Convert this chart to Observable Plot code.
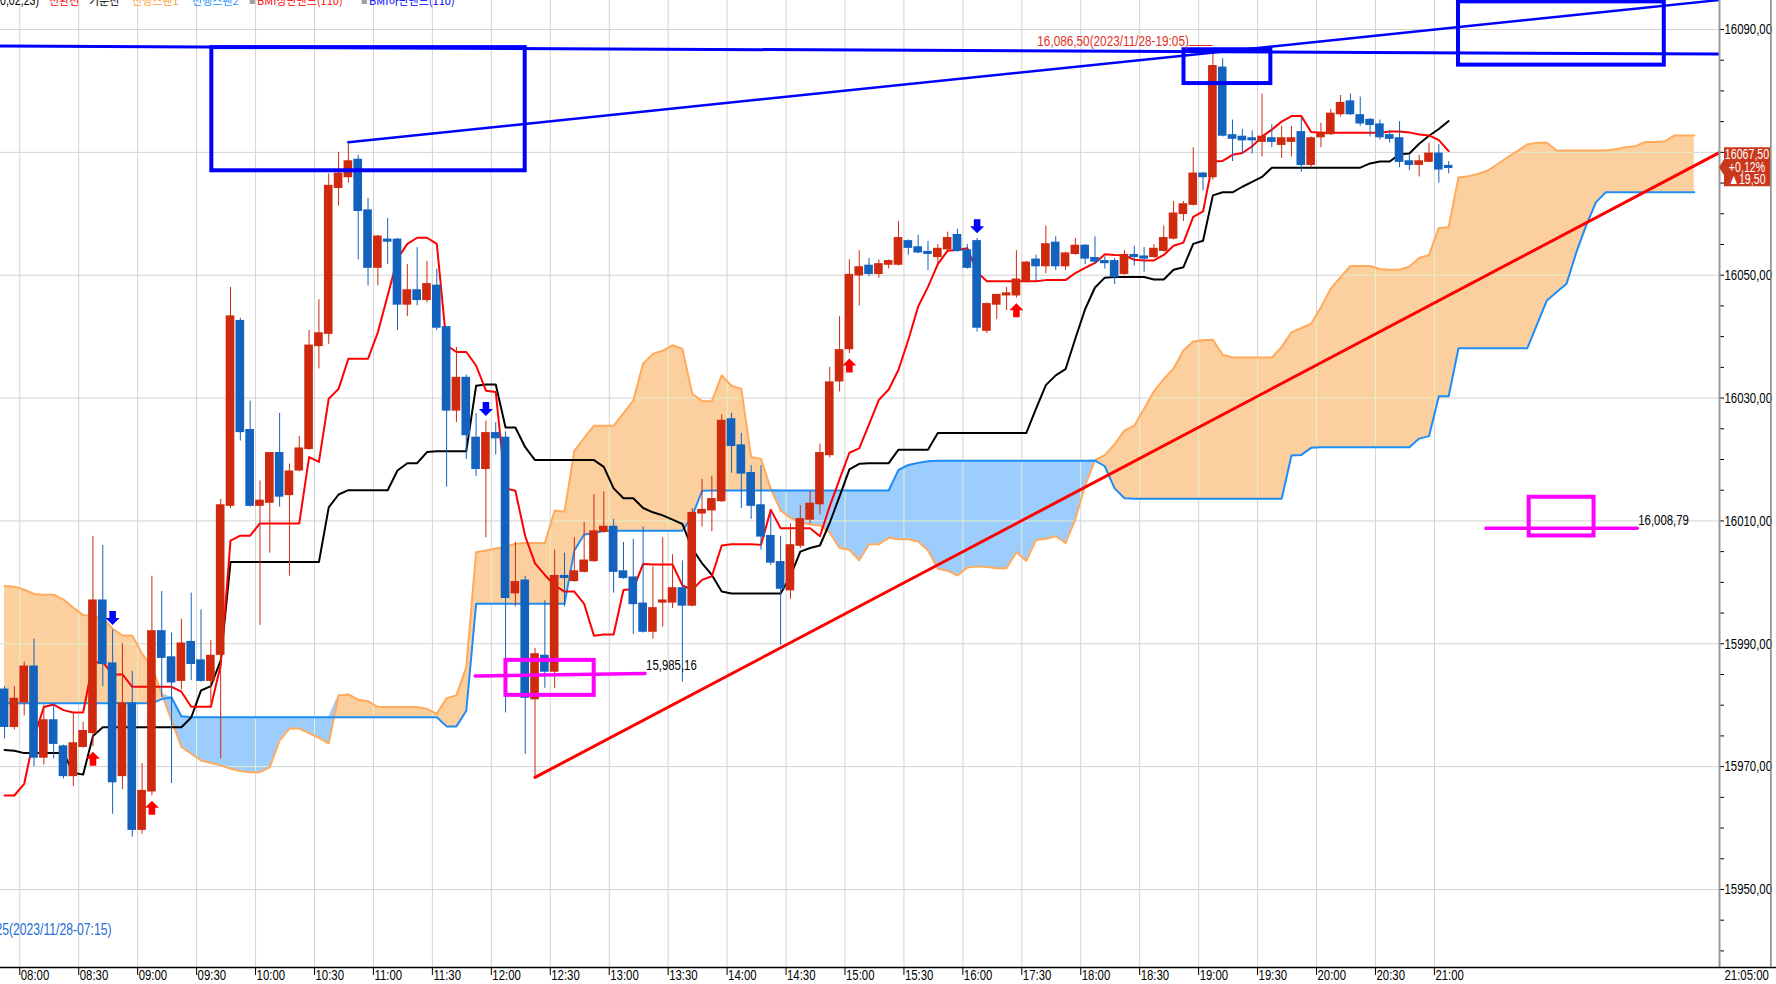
<!DOCTYPE html>
<html><head><meta charset="utf-8">
<script src="https://cdn.jsdelivr.net/npm/d3@7"></script>
<script src="https://cdn.jsdelivr.net/npm/@observablehq/plot@0.6"></script>
<style>
html,body{margin:0;padding:0;background:#fff;overflow:hidden;}
#wrap{position:relative;width:1776px;height:984px;overflow:hidden;}
#legend{position:absolute;left:0;top:-8px;height:20px;width:700px;line-height:16px;white-space:nowrap;}
#legend span{position:absolute;top:0;}
.lat{font-family:'Liberation Sans',sans-serif;font-size:14px;transform:scaleX(0.76);transform-origin:0 0;}
.kr{font-family:'Noto Sans CJK KR',sans-serif;font-size:11px;}
</style></head><body>
<div id="wrap"><div id="chart"></div><div id="legend"></div></div>
<script>
// ---------- data (5-minute bars, index 0 = 08:00) ----------
const FIRST_BAR = -2;
const openV = [15982.5,15976.5,15980.5,15986.25,15971.5,15977.5,15973.25,15968.5,15973.25,15975.5,
15997,15986.75,15968.5,15980.25,15959.75,15966,15992,15987.75,15984,15990.25,
15987.25,15984,15988.25,16012.5,16042.5,16024.75,16012.5,16013,16021,16014.25,
16018.25,16021.75,16038.5,16040.5,16064.25,16066,16068.75,16060.5,16051.25,16055.75,
16055.75,16045.25,16047.5,16046,16048.25,16041.5,16028,16033.25,16023.5,16018.5,
16024.25,16023.5,15998.25,16000.25,15981,15988,15985.5,16001,16000.25,16001.75,
16003.5,16008.25,16009,16001.75,16000.75,15996.5,15992,15996.75,15996.75,15999,
15996.25,16011.25,16011.75,16013.25,16026.5,16022.25,16017.75,16012.5,16007.5,16003.25,
15998.75,16006,16010.25,16012.75,16020.75,16032.75,16038,16050,16051.5,16050.25,
16051.75,16051.75,16055.5,16054.5,16053.75,16053,16054.25,16056.5,16054,16055.5,
16041,16045.25,16046.75,16046.75,16049,16052.5,16051.5,16055.25,16051.5,16053.5,
16054.75,16052.75,16052.25,16052.25,16050.25,16053.25,16053,16053,16054,16056,
16060,16061.5,16066.5,16066,16083.75,16072.75,16072.5,16072.25,16071.75,16072.25,
16071.25,16071.75,16073.25,16068,16072.5,16073,16076.25,16078.25,16076,16075.25,
16074.5,16072.75,16072.25,16068.5,16068,16068.5,16069.75,16067.75];
const highV = [15983,15983,15987,15990.75,15980,15980.25,15973.5,15978.75,15977.25,16007.5,
16006,15992.25,15990,15985.5,15970.5,16001,15998.5,15991.75,15994,15998.25,
15995.5,15990.5,16013.5,16048,16043,16029.5,16016.5,16021,16027.5,16019.25,
16023.75,16041,16046,16066.5,16070,16071.5,16069.5,16062.5,16056.5,16059.25,
16056,16051.75,16054.5,16052.25,16051,16041.5,16038.25,16033.75,16027.5,16026.25,
16026,16024.5,16006.5,16001,15989.25,15997,16005.25,16004.75,16007.25,16009.75,
16014.25,16014.75,16010.25,16006.5,16007,16009,16002.5,16007.25,16004.5,16003.5,
16012,16016.75,16017.25,16027.25,16027.5,16024.25,16019,16019,16011.25,16007.5,
16009.5,16012.5,16014.75,16022.5,16035,16043.25,16052.5,16054,16052.75,16052.5,
16052.5,16058.75,16055.75,16056.5,16055.5,16055,16057,16057.5,16055,16056,
16045.5,16046.75,16048,16054,16052.25,16053.25,16058,16056.25,16053.75,16056,
16055,16056.25,16053,16052.75,16054,16054.75,16054.5,16055,16058,16062,
16062,16070.75,16066.75,16086.5,16085.25,16075.25,16073.75,16073.5,16079.5,16074.5,
16074.25,16074.25,16075.5,16072.5,16074.75,16077,16079.25,16079.5,16079,16075.5,
16075.25,16073.5,16075,16069.5,16069.5,16071.5,16071.25,16068.5];
const lowV = [15974.5,15976,15978.25,15970,15970.25,15971.25,15968,15966.75,15973,15973.25,
15983,15962.25,15966.25,15958.5,15959,15965.25,15981.25,15967.25,15982.5,15984,
15983.75,15980.25,15971.25,16012,16023,16012.25,15993,16004.75,16012.25,16001,
16018,16021.5,16034.75,16038.75,16061.25,16065,16052.5,16048.25,16048.25,16051.75,
16041,16043.25,16045,16045.5,16041,16015.5,16026,16020,16017.25,16007.25,
16020.75,15978.75,15996,15972,15968.25,15982.75,15982.75,15996,16000,16001.5,
16003.25,16008,15998.25,16000.5,15991.5,15991.75,15990.75,15992.75,15995.75,15983.75,
15996,16009,16008.25,16013,16017.75,16012,16010.25,16005.25,16002.75,15989.75,
15997.25,16005.5,16009.5,16011,16020.25,16031,16037.25,16045,16049.75,16049.5,
16051,16051.5,16053.25,16053.5,16050.75,16051.75,16054,16053.75,16051,16040.75,
16040.5,16042.75,16044.25,16046.25,16048.75,16049,16050.25,16050.75,16050.75,16053.25,
16051.75,16051.75,16051,16048.5,16050,16051.5,16050.5,16052.75,16053.75,16055.75,
16058.75,16061.25,16063.75,16065.5,16072.5,16068.5,16069.75,16069.75,16069.25,16070.75,
16069,16069.25,16066.75,16067.5,16070.75,16072.75,16075.75,16076,16074.25,16072.5,
16072,16071.5,16067.5,16067,16066,16068.5,16065,16066.5];
const closeV = [15976.5,15981,15986.25,15971.5,15977.5,15973.75,15968.5,15973.75,15975.75,15997,
15986.75,15967.5,15980.25,15959.75,15966,15992,15987.75,15983.75,15990,15986.75,
15984,15988,16012.5,16043.25,16024.5,16012.5,16013.25,16021,16014,16018,
16021.75,16038.5,16040.5,16064.5,16066.5,16068.5,16060.5,16051.25,16056.25,16055.5,
16045.25,16047.5,16046,16048.5,16041.5,16028,16033.25,16024,16018.5,16024.25,
16023.5,15997.5,16000,15981.25,15988.25,15985.5,16001,16000.75,16001.75,16003.5,
16008.25,16009,16001.75,16000.75,15996.5,15992,15995.75,15997,15999,15996.25,
16011.25,16011.75,16013.5,16026.25,16022.25,16017.75,16012.5,16007.5,16003.25,15999,
16006,16010.25,16012.75,16021,16032.5,16037.75,16050,16051.25,16050.25,16051.75,
16052.25,16056,16054.5,16053.75,16053.5,16054.25,16056,16054,16051.25,16041.5,
16045.25,16046.75,16047,16049.25,16052,16051.5,16055,16051.5,16053.5,16054.75,
16052.75,16052.25,16052,16049.75,16053.25,16053,16052.75,16054.25,16056,16060,
16061.5,16066.5,16066,16084,16072.75,16072.25,16072,16072,16072.5,16071.75,
16072.25,16072.25,16068,16072.25,16073,16076.25,16078,16076.25,16074.75,16074.5,
16072.5,16072.25,16068.5,16068,16068.5,16069.75,16067.25,16067.5];
// conversion line (전환선)
const tenkanV = [15965.3,15965.3,15967.2,15974.8,15979.7,15980.1,15979.2,15978.8,15978.8,15987,
15987,15985,15985,15983,15983,15983,15983,15983,15982.2,15979.75,
15979.75,15979.75,15986.5,16006.8,16007.6,16007.6,16009.6,16009.6,16009.6,16009.6,
16009.6,16020.4,16019.6,16029.9,16031.5,16036.4,16036.4,16036.4,16040.7,16046.7,
16052.7,16055.1,16056.1,16056.1,16055.1,16038.6,16037.5,16037.5,16035.3,16031.2,
16031,16015.3,16014.9,16007.5,16003.1,16001.2,15999.5,15998.5,15998.5,15996.5,
15991.3,15991.5,15991.5,15998.75,15998.9,16003,16002.9,16002.9,16002.9,15999.5,
15998.8,16000.4,16001,16006,16006.2,16006.2,16006.2,16006.1,16011.8,16008.8,
16008.8,16008.8,16008.8,16007.5,16012.4,16016.8,16021.1,16021.8,16025.7,16029.7,
16031.4,16034.6,16039.5,16044.9,16048.1,16051.8,16054,16054.1,16054.4,16050.5,
16049,16049,16049,16049,16049,16049,16049.2,16049.2,16049.2,16050.35,
16051.2,16052,16053.4,16053.3,16053.25,16052.5,16052.4,16052.4,16053.3,16054.8,
16055.3,16059.5,16060.4,16068.5,16068.6,16069.6,16069.9,16071,16072.55,16073.7,
16075,16075.9,16075.9,16073.3,16073.2,16073.2,16073.2,16073.2,16073.2,16073.2,
16073.2,16073.4,16073.4,16073.25,16072.9,16072.75,16072,16070.2];
// base line (기준선)
const kijunV = [15972.7,15972.6,15972.2,15972.2,15972.2,15972.2,15972.2,15969,15968.7,15975,
15976.4,15976.4,15976.4,15976.4,15976.4,15976.4,15976.4,15976.4,15976.4,15978,
15982.4,15983.1,15987.3,16003.3,16003.3,16003.3,16003.3,16003.3,16003.3,16003.3,
16003.3,16003.3,16003.3,16012.2,16014.3,16015,16015,16015,16015,16015,
16018.2,16019.4,16019.4,16021.2,16021.35,16021.35,16021.35,16021.35,16032,16032.2,
16032.2,16025.2,16025.2,16022,16019.9,16019.9,16019.9,16019.9,16019.9,16019.9,
16019.9,16018.8,16015.3,16013.7,16013.7,16012.1,16011.4,16010.9,16010.2,16009.5,
16005.5,16003.1,16001.2,15998.5,15998.2,15998.2,15998.2,15998.2,15998.2,15998.2,
16001,16005,16005.6,16006,16009.7,16014,16018.4,16019.3,16019.4,16019.4,
16019.4,16021.6,16021.6,16021.6,16021.6,16024.3,16024.3,16024.3,16024.3,16024.3,
16024.3,16024.3,16024.3,16024.3,16024.3,16028.3,16032.1,16033.7,16034.7,16039.7,
16044.5,16048,16049.6,16049.7,16049.7,16049.7,16049.7,16049.3,16049.3,16050.9,
16051.3,16055.1,16055.6,16063,16063.5,16063.5,16064.4,16065.2,16066,16067.5,
16067.5,16067.5,16067.5,16067.5,16067.5,16067.5,16067.5,16067.5,16067.5,16068.2,
16068.5,16068.5,16069.7,16069.8,16071.4,16072.7,16073.8,16075.1];
// leading span 1 (선행스팬1) and 2 (선행스팬2), bars -2 .. 170
const spanAV = [15999.4,15999.3,15998.8,15998.1,15998,15998,15997.2,15995.85,15994.7,15994.5,
15994.1,15992.45,15991.35,15991.35,15988.4,15986.2,15981.9,15977.5,15973.2,15972.1,
15971,15970.6,15970.2,15969.65,15969.3,15969.1,15969.1,15969.9,15974.25,15976.2,
15976.2,15975.45,15974.7,15973.8,15981.6,15981.75,15980.9,15980.65,15979.7,15979.7,
15979.7,15979.7,15979.7,15979.4,15978.6,15981.15,15981.6,15986.2,16004.9,16005.2,
16005.5,16005.8,16006.3,16006.4,16006.4,16006.4,16011.7,16011.5,16021.4,16023.5,
16025.5,16025.5,16025.5,16027.5,16029.6,16035.6,16037.2,16037.7,16038.6,16038,
16030.7,16029.5,16029.5,16033.7,16032,16031.5,16020.4,16020.1,16015.2,16011.7,
16010.5,16009.8,16009.4,16009.25,16008.1,16005.6,16005.3,16003.6,16006.2,16006.2,
16007.25,16007,16007,16006.65,16005.2,16002.2,16001.9,16001.1,16002.4,16002.6,
16002.5,16002.3,16002.3,16004.9,16003.5,16006.9,16007.1,16007.5,16006.4,16010.3,
16015.8,16019.9,16020.7,16022.5,16024.7,16025.5,16028.25,16031.1,16033.1,16034.8,
16037.75,16039.2,16039.4,16039.5,16037.05,16036.6,16036.6,16036.6,16036.6,16036.6,
16038.3,16040.7,16041.4,16042.1,16044.8,16047.8,16049.7,16051.5,16051.5,16051.5,
16051,16050.9,16050.9,16051.4,16052.8,16053.3,16057.7,16057.8,16065.9,16066.1,
16066.5,16067.05,16068.1,16069.2,16070.2,16071.3,16071.55,16071.55,16070.3,16070.3,
16070.3,16070.3,16070.3,16070.3,16070.5,16070.85,16071,16071.7,16071.7,16071.8,
16072.75,16072.75,16072.75];
const spanBV = [15980.3,15980.3,15980.3,15980.3,15980.3,15980.3,15980.3,15980.3,15980.3,15980.3,
15980.3,15980.3,15980.3,15980.3,15980.3,15980.3,15981,15981.25,15978.2,15978.05,
15978.05,15978.05,15978.05,15978.05,15978.05,15978.05,15978.05,15978.05,15978.05,15978.05,
15978.05,15978.05,15978.05,15978.05,15978.05,15978.05,15978.05,15978.05,15978.05,15978.05,
15978.05,15978.05,15978.05,15978.05,15978.05,15976.55,15976.55,15979.1,15996.5,15996.5,
15996.5,15996.5,15996.5,15996.5,15996.5,15996.5,15996.5,15996.5,16005.2,16007.8,
16008,16008.4,16008.4,16008.4,16008.4,16008.4,16008.4,16008.4,16008.4,16008.4,
16010.8,16014.9,16014.95,16014.95,16014.95,16014.95,16014.95,16014.95,16014.95,16014.95,
16014.95,16014.95,16014.95,16014.95,16014.95,16014.95,16014.95,16014.95,16014.95,16014.95,
16014.95,16018.3,16019.1,16019.45,16019.7,16019.8,16019.8,16019.8,16019.8,16019.8,
16019.8,16019.8,16019.8,16019.8,16019.8,16019.8,16019.8,16019.8,16019.8,16019.8,
16019.8,16019.8,16018.9,16015.3,16013.7,16013.6,16013.6,16013.6,16013.6,16013.6,
16013.6,16013.6,16013.6,16013.6,16013.6,16013.6,16013.6,16013.6,16013.6,16013.6,
16013.6,16020.65,16020.75,16021.9,16022,16022,16022,16022,16022,16022,
16022,16022,16022,16022,16023.4,16023.8,16030.3,16030.3,16038.1,16038.1,
16038.1,16038.1,16038.1,16038.1,16038.1,16038.1,16042,16045.9,16047.25,16048.6,
16053.75,16058.1,16061.9,16063.5,16063.5,16063.5,16063.5,16063.5,16063.5,16063.5,
16063.5,16063.5,16063.5];

const timeTickBars = [0,6,12,18,24,30,36,42,48,54,60,66,72,78,84,90,96,102,108,114,120,126,132,138,144];
const timeTickLabels = ["08:00","08:30","09:00","09:30","10:00","10:30","11:00","11:30","12:00","12:30","13:00","13:30","14:00","14:30","15:00","15:30","16:00","17:30","18:00","18:30","19:00","19:30","20:00","20:30","21:00"];
const priceGrid = [15950,15970,15990,16010,16030,16050,16070,16090];
const priceMinorTicks = [15940,15945,15950,15955,15960,15965,15970,15975,15980,15985,15990,15995,16000,16005,16010,16015,16020,16025,16030,16035,16040,16045,16050,16055,16060,16065,16070,16075,16080,16085,16090];
const arrowUpBars = [7,13,84,101];
const arrowDownBars = [9,47,97];
const highBar = 121;
const highLabel = "16,086,50(2023/11/28-19:05)";
const lowLabel = "15,943,25(2023/11/28-07:15)";
const lastTimeLabel = "21:05:00";
const lastPrice = 16067.5;
const changePct = "+0,12%";
const changeAbs = "▲19,50";
const trendRed = [[52,15968.25],[172.6,16070]];
const trendBlue = [[33,16071.65],[172.6,16094.8]];
const lineBlue = [[-2.41,16087.3],[172.6,16086.0]];
const boxesBlue = [[19.1,51,16067,16087.05],[118.06,126.9,16081.2,16086.7],[146,166.95,16084.2,16094.5]];
const boxesMagenta = [[49.04,58.02,15981.6,15987.3],[153.2,159.8,16007.55,16013.85]];
const linesMagenta = [[[45.9,15984.75],[63.2,15985.16]],[[148.8,16008.79],[164.2,16008.79]]];
const magentaLabels = ["15,985,16","16,008,79"];
const legendItems = [
  ["0,02,23)","#000","lat",0],["전환선","#ff0000","kr",49],["기준선","#000","kr",89],
  ["선행스팬1","#ffa040","kr",132],["선행스팬2","#1e90ff","kr",192],["■","#a0a0a0","lat",249],
  ["BMI상단밴드(110)","#ff0000","kr",257],["■","#a0a0a0","lat",361],["BMI하단밴드(110)","#0000ff","kr",369]
];

// ---------- build ----------
const X_DOMAIN = [-2.4125, 172.57];
const Y_DOMAIN = [15937.3, 16094.72];
const UP = "#cf2a0e", DOWN = "#1262be";
const TEXT_SQUEEZE = 0.76;
const bars = openV.map((o,i)=>({k:i+FIRST_BAR,o,h:highV[i],l:lowV[i],c:closeV[i]}));
const upBars = bars.filter(d=>d.c>=d.o), dnBars = bars.filter(d=>d.c<d.o);
const tenkan = tenkanV.map((v,i)=>({k:i+FIRST_BAR,v}));
const kijun = kijunV.map((v,i)=>({k:i+FIRST_BAR,v}));
const cloud = spanAV.map((a,i)=>({k:i+FIRST_BAR,a,b:spanBV[i]}));
const barAt = k => bars[k-FIRST_BAR];
const fmtPrice = v => v.toFixed(2).replace(".", ",");
const timeTicks = timeTickBars.map((b,i)=>({x:b-0.45,label:timeTickLabels[i]}));
// the grid label that the price tag covers is not shown
const shownPriceLabels = priceGrid.filter(v => Math.abs(v - lastPrice) > 5);

const arrowDown = {draw(ctx,size){const r=Math.sqrt(size/Math.PI),s=r*0.47;
  ctx.moveTo(-s,-r);ctx.lineTo(s,-r);ctx.lineTo(s,0);ctx.lineTo(r,0);ctx.lineTo(0,r);ctx.lineTo(-r,0);ctx.lineTo(-s,0);ctx.closePath();}};
const arrowUp = {draw(ctx,size){const r=Math.sqrt(size/Math.PI),s=r*0.47;
  ctx.moveTo(-s,r);ctx.lineTo(s,r);ctx.lineTo(s,0);ctx.lineTo(r,0);ctx.lineTo(0,-r);ctx.lineTo(-r,0);ctx.lineTo(-s,0);ctx.closePath();}};

const px0 = d=>d[0], py1 = d=>d[1];
const chart = Plot.plot({
  width: 1776, height: 984,
  marginLeft: 0, marginRight: 57, marginTop: 0, marginBottom: 17,
  style: {fontFamily: "'Liberation Sans',sans-serif", fontSize: "15px", background: "#fff", overflow: "hidden", color: "#000"},
  x: {domain: X_DOMAIN, axis: "bottom", ticks: timeTicks.map(d=>d.x), tickSize: 8, tickFormat: () => "", label: null},
  y: {domain: Y_DOMAIN, axis: "right", ticks: priceMinorTicks, tickSize: 4, tickPadding: 1, label: null,
      tickFormat: v => shownPriceLabels.includes(v) ? fmtPrice(v) : ""},
  marks: [
    Plot.ruleY(priceGrid, {stroke: "#d4d4d4", strokeWidth: 1}),
    Plot.ruleX(timeTicks, {x: "x", stroke: "#d4d4d4", strokeWidth: 1}),
    Plot.areaY(cloud, {x: "k", y1: "b", y2: d => Math.max(d.a, d.b), fill: "#fccf9f", curve: "linear"}),
    Plot.areaY(cloud, {x: "k", y1: "a", y2: d => Math.max(d.a, d.b), fill: "#9ccdfd", curve: "linear"}),
    Plot.line(cloud, {x: "k", y: "a", stroke: "#ffaa5c", strokeWidth: 2}),
    Plot.line(cloud, {x: "k", y: "b", stroke: "#1e8cf5", strokeWidth: 2}),
    Plot.line(kijun, {x: "k", y: "v", stroke: "#000", strokeWidth: 2}),
    Plot.line(tenkan, {x: "k", y: "v", stroke: "#ff0000", strokeWidth: 2}),
    Plot.ruleX(upBars, {x: "k", y1: "l", y2: "h", stroke: UP, strokeWidth: 1}),
    Plot.ruleX(dnBars, {x: "k", y1: "l", y2: "h", stroke: DOWN, strokeWidth: 1}),
    Plot.rect(upBars, {x1: d => d.k - 0.44, x2: d => d.k + 0.44, y1: "o", y2: "c", fill: UP, insetTop: -0.8, insetBottom: -0.8}),
    Plot.rect(dnBars, {x1: d => d.k - 0.44, x2: d => d.k + 0.44, y1: "o", y2: "c", fill: DOWN, insetTop: -0.8, insetBottom: -0.8}),
    Plot.line(lineBlue, {x: px0, y: py1, stroke: "#0000ff", strokeWidth: 3, clip: true}),
    Plot.line(trendBlue, {x: px0, y: py1, stroke: "#0000ff", strokeWidth: 2.5, clip: true}),
    Plot.line(trendRed, {x: px0, y: py1, stroke: "#ff0000", strokeWidth: 3, clip: true}),
    Plot.rect(boxesBlue, {x1: d=>d[0], x2: d=>d[1], y1: d=>d[2], y2: d=>d[3], fill: "none", stroke: "#0000ff", strokeWidth: 4, clip: true}),
    Plot.rect(boxesMagenta, {x1: d=>d[0], x2: d=>d[1], y1: d=>d[2], y2: d=>d[3], fill: "none", stroke: "#ff00ff", strokeWidth: 4}),
    ...linesMagenta.map(seg => Plot.line(seg, {x: px0, y: py1, stroke: "#ff00ff", strokeWidth: 3.5})),
    Plot.text(linesMagenta.map((seg,i)=>({x: seg[1][0], y: seg[1][1], t: magentaLabels[i]})), {x: "x", y: "y", text: "t", textAnchor: "start", lineAnchor: "middle", dx: 1, dy: -8, fill: "#000", fontSize: 15}),
    Plot.dot(arrowUpBars.map(barAt), {x: "k", y: "l", symbol: arrowUp, r: 7, fill: "#ff0000", stroke: "none", dy: 12}),
    Plot.dot(arrowDownBars.map(barAt), {x: "k", y: "h", symbol: arrowDown, r: 7, fill: "#0000ff", stroke: "none", dy: -12}),
    Plot.text([barAt(highBar)], {x: "k", y: "h", text: () => highLabel, textAnchor: "end", lineAnchor: "middle", dx: -24, dy: -10, fill: "#e0301e", fontSize: 15.5}),
    Plot.ruleY([barAt(highBar)], {y: "h", x1: d => d.k - 2.4, x2: d => d.k, dy: -5.5, stroke: "#e0301e", strokeWidth: 1}),
    Plot.text([lowLabel], {frameAnchor: "bottom-left", text: d => d, textAnchor: "end", lineAnchor: "middle", dx: 111, dy: -38, fill: "#1e6ed2", fontSize: 16}),
    Plot.text(timeTicks, {x: "x", text: "label", frameAnchor: "bottom", textAnchor: "start", lineAnchor: "top", dx: 1, dy: 2, fill: "#000"}),
    Plot.text([lastTimeLabel], {frameAnchor: "bottom-right", text: d => d, textAnchor: "start", lineAnchor: "top", dx: 5, dy: 2, fill: "#000"}),
    Plot.ruleX([X_DOMAIN[1]], {stroke: "#9a9a9a", strokeWidth: 2}),
    Plot.ruleY([Y_DOMAIN[0]], {x1: X_DOMAIN[0], x2: 178.4, stroke: "#000", strokeWidth: 1.5}),
    Plot.ruleX([177.8], {y1: Y_DOMAIN[0], y2: Y_DOMAIN[1], stroke: "#808080", strokeWidth: 1.5})
  ]
});
document.getElementById("chart").appendChild(chart);
const svg = d3.select(chart);
const ys = chart.scale("y"), xs = chart.scale("x");

// narrow the glyphs of every text around its own anchor (the reference uses a condensed screen font)
svg.selectAll("text").each(function(){
  const x = parseFloat(this.getAttribute("x")) || 0, y = parseFloat(this.getAttribute("y")) || 0;
  const t = this.getAttribute("transform") || "";
  this.setAttribute("transform", `${t} translate(${x},${y}) scale(${TEXT_SQUEEZE},1) translate(${-x},${-y})`);
});

// grid seen through the cloud (pale lines clipped to the cloud shape)
const areaGroups = svg.selectAll('g[aria-label="area"]').nodes();
if (areaGroups.length) {
  const defs = svg.append("defs");
  const cp = defs.append("clipPath").attr("id", "cloudClip");
  svg.selectAll('g[aria-label="area"] path').each(function(){ cp.append("path").attr("d", this.getAttribute("d")); });
  const lastArea = areaGroups[areaGroups.length - 1];
  const og = document.createElementNS("http://www.w3.org/2000/svg", "g");
  lastArea.parentNode.insertBefore(og, lastArea.nextSibling);
  const o = d3.select(og).attr("clip-path", "url(#cloudClip)").attr("stroke", "#e3f0c8").attr("stroke-width", 1);
  const [xa, xb] = xs.range, [ya, yb] = ys.range;
  priceGrid.forEach(v => o.append("line").attr("x1", xa).attr("x2", xb).attr("y1", ys.apply(v)+0.5).attr("y2", ys.apply(v)+0.5));
  timeTicks.forEach(d => o.append("line").attr("y1", ya).attr("y2", yb).attr("x1", xs.apply(d.x)+0.5).attr("x2", xs.apply(d.x)+0.5));
}

// current price tag on the price axis
const ty = ys.apply(lastPrice), tx = xs.apply(X_DOMAIN[1]);
const tag = svg.append("g");
tag.append("path")
  .attr("d", `M${tx},${ty} L${tx+5},${ty-8} V${ty-20} H${tx+51} V${ty+19} H${tx+5} V${ty+8} Z`)
  .attr("fill", "#c9371c");
[fmtPrice(lastPrice), changePct, changeAbs].forEach((t,i) => {
  const cx = tx + 28, cy = ty - 12.5 + i * 12.5;
  tag.append("text").attr("x", cx).attr("y", cy)
    .attr("transform", `translate(${cx},${cy}) scale(${TEXT_SQUEEZE},1) translate(${-cx},${-cy})`)
    .attr("text-anchor", "middle").attr("dominant-baseline", "central")
    .attr("fill", "#fff").attr("font-size", 14).text(t);
});

// top legend (cut by the window top)
const leg = document.getElementById("legend");
legendItems.forEach(([t,c,cls,x]) => {
  const s = document.createElement("span");
  s.className = cls; s.style.color = c; s.style.left = x + "px"; s.textContent = t;
  leg.appendChild(s);
});
</script></body></html>
